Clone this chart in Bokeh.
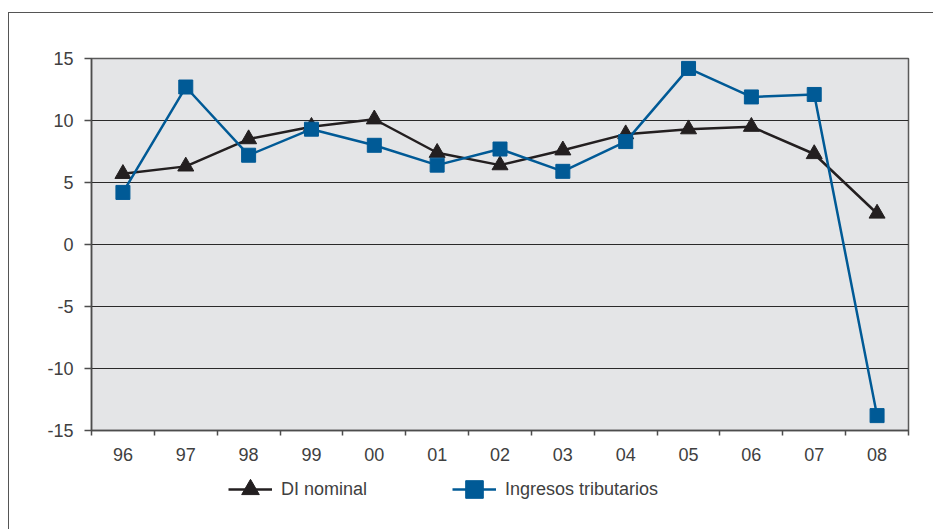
from bokeh.plotting import figure
from bokeh.models import FixedTicker, Legend, LegendItem, Range1d
from bokeh.layouts import column
from bokeh.embed import file_html
from bokeh.resources import INLINE

years = ["96", "97", "98", "99", "00", "01", "02", "03", "04", "05", "06", "07", "08"]
di_nominal = [5.7, 6.3, 8.5, 9.5, 10.1, 7.4, 6.4, 7.6, 8.9, 9.3, 9.5, 7.3, 2.5]
ingresos = [4.2, 12.7, 7.2, 9.3, 8.0, 6.4, 7.7, 5.9, 8.3, 14.2, 11.9, 12.1, -13.8]
y_ticks = [-15, -10, -5, 0, 5, 10, 15]
series_names = ["DI nominal", "Ingresos tributarios"]

BLUE = "#005a96"
BLACK = "#231f20"
TXT = "#404040"
FONT = "Liberation Sans"
W = 924

x = list(range(len(years)))

p = figure(width=W, height=456, output_backend="svg", toolbar_location=None,
           x_range=Range1d(-0.5, len(years) - 0.5), y_range=Range1d(-15, 15),
           min_border_left=82, min_border_top=45, min_border_right=25, min_border_bottom=39)

p.background_fill_color = "#e4e5e7"
p.border_fill_color = "white"
p.outline_line_color = "#5a5a5a"
p.outline_line_width = 1.5

# axes
p.yaxis.ticker = FixedTicker(ticks=y_ticks)
p.yaxis.major_label_overrides = {t: str(t) for t in y_ticks}
p.yaxis.major_tick_out = 7
p.yaxis.major_tick_in = 0
p.yaxis.minor_tick_out = 0
p.yaxis.minor_tick_in = 0
p.yaxis.major_label_standoff = 11
p.yaxis.axis_line_color = "#4d4d4d"
p.yaxis.axis_line_width = 1.5
p.yaxis.major_tick_line_color = "#4d4d4d"
p.yaxis.major_tick_line_width = 1.5

p.xaxis.ticker = FixedTicker(ticks=x, minor_ticks=[i - 0.5 for i in range(len(years) + 1)])
p.xaxis.major_label_overrides = {i: years[i] for i in x}
p.xaxis.major_tick_out = 0
p.xaxis.major_tick_in = 0
p.xaxis.minor_tick_out = 5
p.xaxis.minor_tick_in = 0
p.xaxis.minor_tick_line_color = "#4d4d4d"
p.xaxis.minor_tick_line_width = 1.5
p.xaxis.major_label_standoff = 12
p.xaxis.axis_line_color = "#4d4d4d"
p.xaxis.axis_line_width = 1.5

for ax in (p.xaxis, p.yaxis):
    ax.major_label_text_font = FONT
    ax.major_label_text_font_size = "18px"
    ax.major_label_text_color = TXT

p.xgrid.visible = False
p.ygrid.ticker = FixedTicker(ticks=y_ticks)
p.ygrid.grid_line_color = "#2a2a2a"
p.ygrid.grid_line_width = 1.2

# series
p.line(x, di_nominal, line_color=BLACK, line_width=2.5)
p.scatter(x, di_nominal, marker="triangle", size=16, fill_color=BLACK, line_color=BLACK)
p.line(x, ingresos, line_color=BLUE, line_width=2.5)
p.scatter(x, ingresos, marker="square", size=14, fill_color=BLUE, line_color=BLUE)

# legend strip (its own renderers sit outside the strip's visible range)
q = figure(width=W, height=60, output_backend="svg", toolbar_location=None,
           x_range=Range1d(100, 101), y_range=Range1d(100, 101),
           min_border_left=0, min_border_right=0, min_border_top=0, min_border_bottom=0)
q.axis.visible = False
q.grid.visible = False
q.outline_line_color = None
q.background_fill_color = "white"
q.border_fill_color = "white"

k1 = q.line(x, di_nominal, line_color=BLACK, line_width=2.5)
m1 = q.scatter(x, di_nominal, marker="triangle", fill_color=BLACK, line_color=BLACK)
k2 = q.line(x, ingresos, line_color=BLUE, line_width=2.5)
m2 = q.scatter(x, ingresos, marker="square", fill_color=BLUE, line_color=BLUE)

legend = Legend(items=[LegendItem(label=series_names[0], renderers=[k1, m1]),
                       LegendItem(label=series_names[1], renderers=[k2, m2])],
                orientation="horizontal", location=(137, 18))
legend.padding = 0
legend.margin = 0
legend.spacing = 85
legend.glyph_width = 44
legend.glyph_height = 44
legend.label_standoff = 9
legend.border_line_color = None
legend.background_fill_alpha = 0
legend.label_text_font = FONT
legend.label_text_font_size = "18px"
legend.label_text_color = TXT
q.add_layout(legend, "center")

layout = column(p, q, spacing=0)
layout.styles = {"border-left": "1.5px solid #555555", "border-top": "1.5px solid #555555",
                 "margin-top": "12px", "margin-left": "8px"}

open("out.html", "w").write(file_html(layout, INLINE))
